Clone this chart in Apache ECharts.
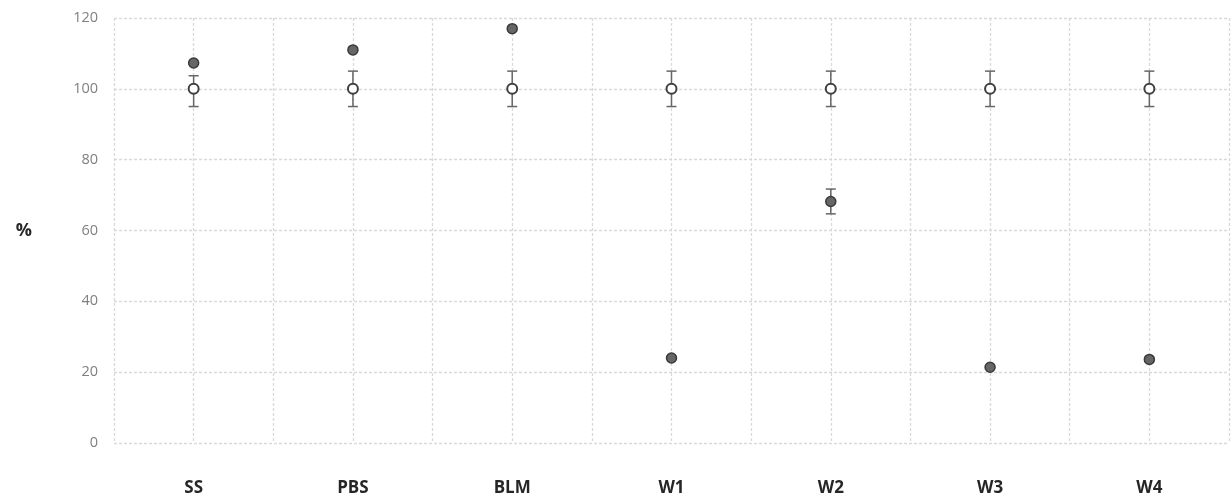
<!DOCTYPE html>
<html>
<head>
<meta charset="utf-8">
<script src="https://cdn.jsdelivr.net/npm/echarts@6/dist/echarts.min.js"></script>
<style>
  html, body { margin: 0; padding: 0; background: #fff; }
  #chart { width: 1232px; height: 501px; }
</style>
</head>
<body>
<div id="chart"></div>
<script>
/* 类别与数据 */
var categories = ['SS', 'PBS', 'BLM', 'W1', 'W2', 'W3', 'W4'];
var yTicks = [0, 20, 40, 60, 80, 100, 120];

/* 对照组（空心点） */
var controlValues = [100, 100, 100, 100, 100, 100, 100];
var controlErrLow = [5, 5, 5, 5, 5, 5, 5];
var controlErrHigh = [3.7, 5, 5, 5, 5, 5, 5];

/* 处理组（实心点） */
var treatValues = [107.3, 111, 117, 24, 68.2, 21.4, 23.6];
var treatErrLow = [0, 0, 0, 0, 3.5, 0, 0];
var treatErrHigh = [0, 0, 0, 0, 3.5, 0, 0];

function toPoints(vals) {
    return vals.map(function (v, i) { return [i, v]; });
}
function toErrors(vals, lo, hi) {
    return vals.map(function (v, i) { return [i, v - lo[i], v + hi[i]]; });
}

/* 误差线 */
function renderError(params, api) {
    var lo = api.coord([api.value(0), api.value(1)]);
    var hi = api.coord([api.value(0), api.value(2)]);
    if (hi[1] === lo[1]) return null;
    var w = 5;
    var style = { stroke: '#666', lineWidth: 1.5 };
    return {
        type: 'group',
        children: [
            { type: 'line', shape: { x1: lo[0], y1: lo[1], x2: hi[0], y2: hi[1] }, style: style },
            { type: 'line', shape: { x1: lo[0] - w, y1: lo[1], x2: lo[0] + w, y2: lo[1] }, style: style },
            { type: 'line', shape: { x1: hi[0] - w, y1: hi[1], x2: hi[0] + w, y2: hi[1] }, style: style }
        ]
    };
}

var gridLine = { show: true, lineStyle: { color: '#d9d9d9', type: [3, 2], width: 1.3 } };

var chart = echarts.init(document.getElementById('chart'));
chart.setOption({
    animation: false,
    grid: { left: 114, right: 1, top: 18, bottom: 58 },
    xAxis: {
        type: 'value',
        min: -0.5,
        max: categories.length - 0.5,
        interval: 0.5,
        axisLine: { show: false },
        axisTick: { show: false },
        axisLabel: {
            margin: 37,
            fontFamily: 'Open Sans',
            fontWeight: 'bold',
            fontSize: 17,
            color: '#262626',
            formatter: function (v) {
                return Number.isInteger(v) ? categories[v] : '';
            }
        },
        splitLine: gridLine
    },
    yAxis: {
        type: 'value',
        min: yTicks[0],
        max: yTicks[yTicks.length - 1],
        interval: 20,
        name: '%',
        nameLocation: 'middle',
        nameRotate: 0,
        nameGap: 82,
        nameTextStyle: { fontFamily: 'Open Sans', fontWeight: 'bold', fontSize: 18, color: '#262626' },
        axisLine: { show: false },
        axisTick: { show: false },
        axisLabel: { margin: 16, fontFamily: 'Open Sans', fontSize: 14.5, color: '#808080' },
        splitLine: gridLine
    },
    series: [
        {
            type: 'custom',
            renderItem: renderError,
            data: toErrors(controlValues, controlErrLow, controlErrHigh),
            encode: { x: 0, y: [1, 2] },
            z: 2
        },
        {
            type: 'custom',
            renderItem: renderError,
            data: toErrors(treatValues, treatErrLow, treatErrHigh),
            encode: { x: 0, y: [1, 2] },
            z: 2
        },
        {
            type: 'scatter',
            symbol: 'circle',
            symbolSize: 10,
            data: toPoints(controlValues),
            itemStyle: { color: '#fff', borderColor: '#3f3f3f', borderWidth: 2, opacity: 1 },
            z: 3
        },
        {
            type: 'scatter',
            symbol: 'circle',
            symbolSize: 10,
            data: toPoints(treatValues),
            itemStyle: { color: '#666', borderColor: '#3a3a3a', borderWidth: 1.5, opacity: 1 },
            z: 3
        }
    ]
});
</script>
</body>
</html>
